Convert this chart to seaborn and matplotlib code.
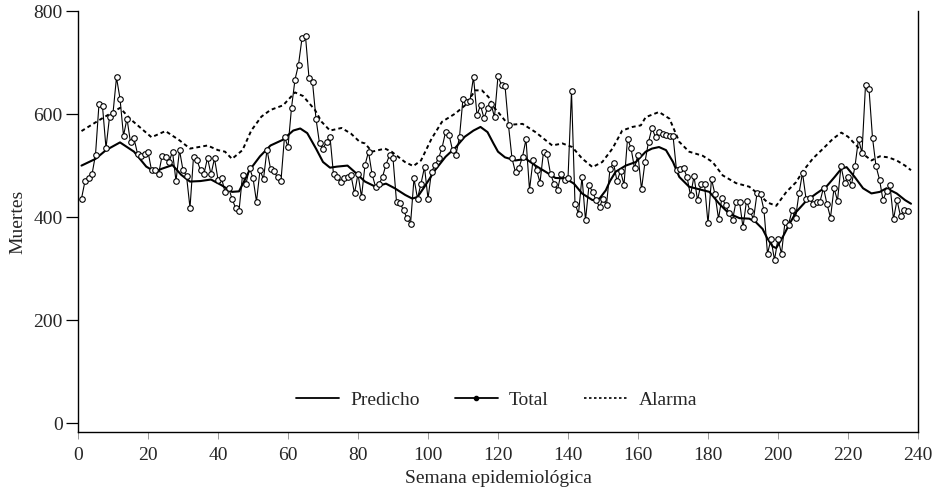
import numpy as np
import pandas as pd
import matplotlib
matplotlib.use("Agg")
import matplotlib.pyplot as plt
import seaborn as sns
from matplotlib.lines import Line2D

sns.set_theme(style="ticks")
plt.rcParams['font.family'] = ['Liberation Serif', 'DejaVu Serif']

# ---- data ----
total = [
    436, 470, 476, 483, 521, 620, 615, 534, 594, 602,
    671, 630, 558, 591, 545, 553, 523, 518, 522, 527,
    491, 492, 483, 518, 517, 507, 527, 470, 530, 491,
    480, 418, 517, 510, 491, 484, 515, 483, 514, 473,
    476, 449, 457, 436, 418, 412, 481, 465, 495, 476,
    430, 491, 474, 531, 494, 489, 477, 471, 556, 536,
    612, 667, 696, 747, 751, 670, 662, 591, 543, 533,
    546, 556, 483, 478, 468, 476, 477, 481,
    446, 484, 439, 501, 527, 484, 459, 464, 478, 502,
    520, 514, 430, 428, 413, 398, 386, 475, 436, 465,
    497, 436, 488, 501, 514, 534, 565, 560, 530, 521,
    556, 630, 623, 626, 672, 598, 617, 592, 611, 620,
    594, 674,
    656, 655, 578, 514, 487, 496, 517, 551, 453, 510,
    492, 467, 527, 522, 484, 465, 453, 484, 473, 475,
    644, 426, 407, 478, 394, 462, 449, 433, 420, 436,
    423, 494,
    505, 470, 489, 463, 552, 534, 495, 521, 454, 507,
    546, 573, 555, 566, 562, 560, 558, 558, 491, 494,
    495, 478, 442, 479, 433, 464, 464, 388, 474, 444,
    397, 438, 423, 408, 394, 430, 430, 380, 432, 412,
    396, 446, 444, 413, 329, 357, 317, 358, 329,
    391, 385, 413, 398, 446, 486, 436, 438, 426, 430,
    430, 457, 425, 399, 456, 432, 499, 466, 478, 463,
    499, 551, 525, 656, 649, 554, 499, 473, 433, 450,
    462, 396, 433, 402, 414, 411,
]
weeks = list(range(1, len(total) + 1))

pred_weeks = [1, 5, 8, 12, 16, 19.5, 22, 24, 27, 29.5, 32, 35, 38, 41, 44, 46,
              47.5, 49, 52, 55, 58.5, 61.5, 63.5, 65.5, 68, 70, 72, 74, 77,
              79, 82, 85, 88, 90.5, 93.5, 95.5, 97, 99, 102, 105, 108, 110.5,
              113, 115, 117, 118.7, 120, 122, 125, 128, 130.7, 133.6, 136.4,
              139.3, 141.7, 144, 147, 149, 150.8, 152, 153.6, 156.5, 159.4,
              162.2, 164, 166, 168, 170, 171.8, 174.6, 177.5, 180.4, 183.2,
              186, 189, 191.8, 193.7, 195.6, 197, 198.5, 199.5, 201.4, 203.3,
              205.2, 208, 211, 213.8, 216.2, 218.1, 219.6, 221.9, 224.3,
              226.7, 229.1, 231, 233.9, 236.3, 238]
pred_vals = [500, 513, 530, 545, 527, 498, 488, 494, 501, 482, 469, 470, 473,
             462, 449, 450, 470, 491, 518, 539, 550, 568, 572, 563, 533, 507,
             496, 498, 500, 488, 469, 459, 465, 456, 443, 436, 439, 459, 491,
             517, 536, 556, 568, 575, 565, 543, 527, 516, 510, 513, 500, 488,
             476, 475, 465, 446, 433, 436, 452, 470, 488, 500, 507, 527, 533,
             536, 530, 507, 478, 459, 454, 449, 426, 407, 398, 397, 390, 377,
             358, 343, 340, 362, 387, 410, 431, 446, 459, 478, 494, 497, 478,
             456, 446, 449, 456, 446, 433, 426]

alarm_weeks = [1, 6, 12, 15, 21, 25, 29, 32, 37, 40, 42, 44, 47, 49.5, 52.4,
               55, 58.6, 62, 64.3, 67.7, 69.6, 72, 75.3, 78, 80.5, 82, 84,
               87.7, 89.6, 93.4, 95.8, 98, 101, 104, 107.8, 110.6, 113.5,
               115.4, 117.3, 118.7, 120, 123, 127, 130.7, 135.5, 138.4, 141.2,
               144, 147, 149.8, 152.7, 155.5, 158.4, 160.8, 162.2, 166, 169,
               171.8, 174.6, 178.5, 181.3, 184.2, 188, 191.8, 194.7, 197.1,
               199.5, 202.4, 205.2, 207.1, 210, 212.9, 215.7, 218.1, 220,
               222.4, 224.8, 226.7, 229.1, 231.5, 233.9, 236.3, 238]
alarm_vals = [567, 588, 612, 590, 555, 567, 549, 533, 539, 530, 527, 513, 530,
              568, 595, 608, 617, 642, 635, 608, 585, 568, 573, 562, 546, 543,
              527, 533, 527, 507, 499, 510, 552, 585, 601, 617, 646, 646, 633,
              614, 604, 579, 581, 565, 539, 543, 536, 514, 497, 507, 533, 568,
              575, 578, 594, 604, 591, 546, 527, 519, 507, 481, 466, 459, 443,
              428, 422, 449, 468, 489, 514, 533, 552, 564, 556, 539, 520, 510,
              518, 516, 510, 500, 491]

x_ticks = list(range(0, 241, 20))
y_ticks = [0, 200, 400, 600, 800]

# ---- figure ----
fig = plt.figure(figsize=(9.36, 4.9), dpi=100)
ax = fig.add_axes([78 / 936, 1 - 432 / 490, 840 / 936, 421 / 490])

df_tot = pd.DataFrame({"Semana": weeks, "Total": total})
df_pred = pd.DataFrame({"Semana": pred_weeks, "Predicho": pred_vals})
df_alarm = pd.DataFrame({"Semana": alarm_weeks, "Alarma": alarm_vals})

sns.lineplot(data=df_alarm, x="Semana", y="Alarma", ax=ax, color="black",
             lw=1.4, linestyle=(0, (2.0, 1.6)), zorder=2)
sns.lineplot(data=df_pred, x="Semana", y="Predicho", ax=ax, color="black",
             lw=1.5, zorder=3)
sns.lineplot(data=df_tot, x="Semana", y="Total", ax=ax, color="black",
             lw=0.8, marker="o", markersize=4.0, markerfacecolor="white",
             markeredgecolor="black", markeredgewidth=0.8, zorder=4)

ax.set_xlim(0, 240)
ax.set_ylim(-17, 800)
ax.set_xticks(x_ticks)
ax.set_yticks(y_ticks)
ax.set_xticklabels([str(t) for t in x_ticks])
ax.set_yticklabels([str(t) for t in y_ticks])

for s in ["left", "bottom", "right"]:
    ax.spines[s].set_color("black")
    ax.spines[s].set_linewidth(1.0)
ax.spines["top"].set_visible(False)
ax.spines["right"].set_visible(True)

ax.tick_params(axis="y", direction="out", length=9, width=0.9, color="black",
               labelsize=14, pad=2, right=False)
ax.tick_params(axis="x", direction="out", length=5, width=0.6, color="#888888",
               labelsize=14, pad=6, top=False)

ax.set_xlabel("Semana epidemiológica", fontsize=14, labelpad=4)
ax.set_ylabel("Muertes", fontsize=14)
ax.yaxis.set_label_coords(-0.062, 0.5)

handles = [
    Line2D([], [], color="black", lw=1.3),
    Line2D([], [], color="black", lw=1.3, marker="o", markersize=3,
           markerfacecolor="black"),
    Line2D([], [], color="black", lw=1.2, linestyle=(0, (1.5, 1.5))),
]
ax.legend(handles, ["Predicho", "Total", "Alarma"], loc="center",
          bbox_to_anchor=(0.498, 0.076), ncol=3, frameon=False, fontsize=14,
          handlelength=2.2, handletextpad=0.6, columnspacing=1.8)

fig.savefig("out.png", dpi=100)
